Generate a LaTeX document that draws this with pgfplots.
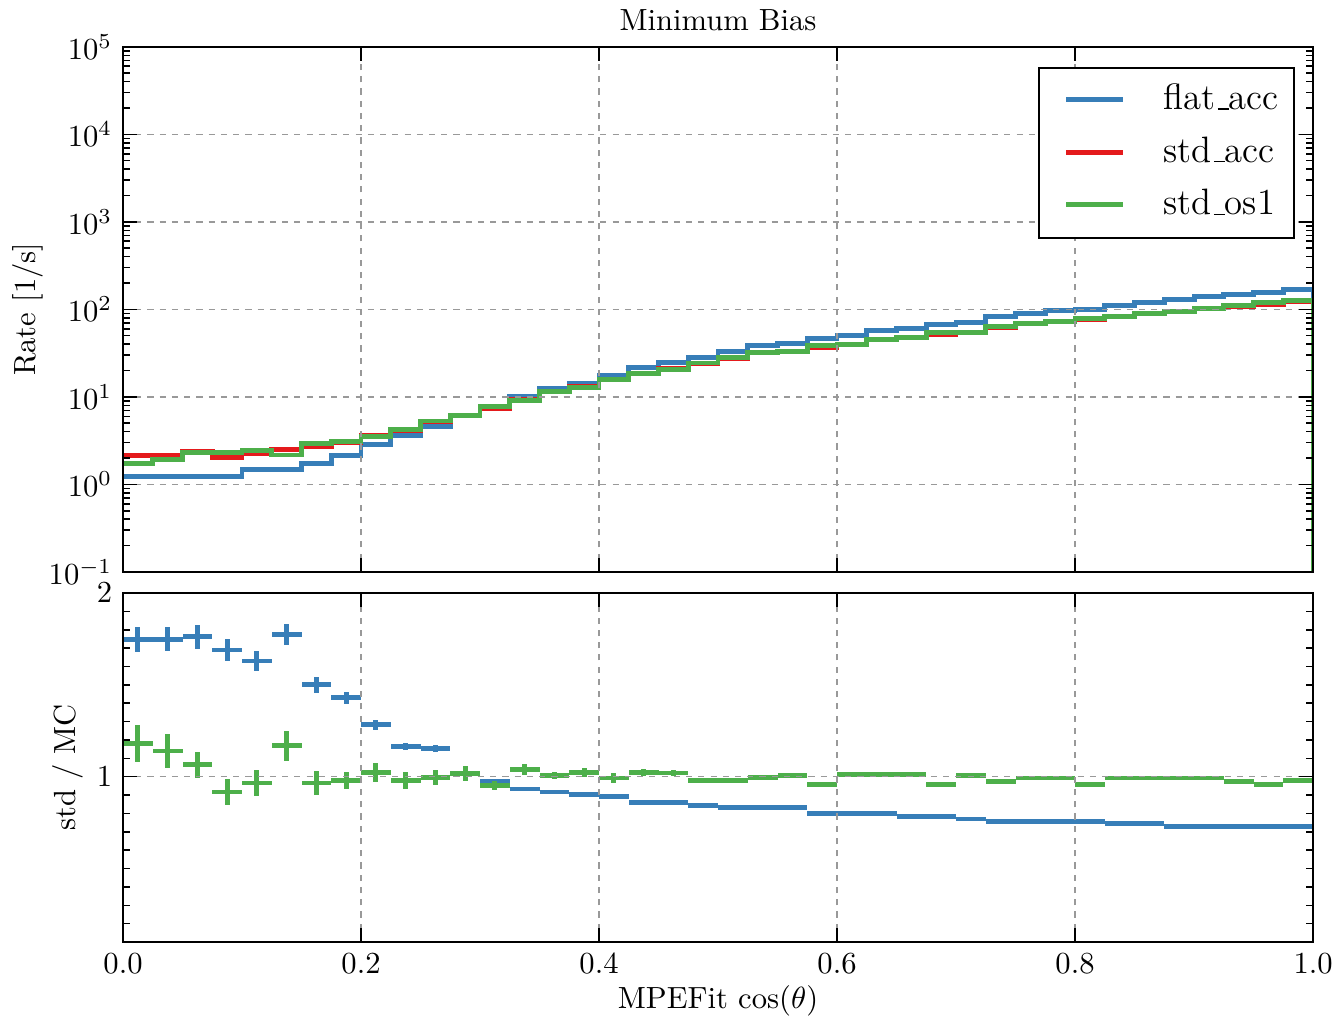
\documentclass[border=0pt]{standalone}
\usepackage{pgfplots}
\pgfplotsset{compat=1.18}
\definecolor{cblue}{RGB}{55,126,184}
\definecolor{cred}{RGB}{228,26,28}
\definecolor{cgreen}{RGB}{77,175,74}
\newcommand{\us}{\leavevmode\kern.06em\vbox{\hrule width.3em}}
\pgfplotsset{
  common/.style={
    scale only axis, width=388.9pt, xmin=0, xmax=1, axis on top,
    tick align=inside, major tick length=4.6pt, minor tick length=2.3pt,
    grid=major, major grid style={dash pattern=on 2pt off 2pt, black!40, line width=0.5pt},
    axis line style={line width=0.8pt},
    every tick/.style={black, line width=0.5pt},
    tick label style={font=\normalsize},
    xticklabel style={inner xsep=0pt},
    xtick={0,0.2,0.4,0.6,0.8,1},
    clip=true,
  },
  stepline/.style={const plot, line width=1.6pt, mark=none},
  ratio/.style={line width=1.6pt, only marks, mark=*, mark size=0pt,
    mark options={draw=none, fill=none},
    error bars/x dir=both, error bars/x fixed=0.0125, error bars/y dir=both,
    error bars/y explicit, error bars/error mark=none,
    error bars/error bar style={line width=1.6pt, solid}},
}
\begin{document}
\begin{tikzpicture}
\begin{axis}[common, name=top, at={(0,0)}, anchor=south west, height=171.6pt,
  ymode=log, ymin=0.1, ymax=1e5,
  ytick={1e-1,1e0,1e1,1e2,1e3,1e4,1e5},
  minor ytick={0.2,0.3,0.4,0.5,0.6,0.7,0.8,0.9,2,3,4,5,6,7,8,9,20,30,40,50,60,70,80,90,200,300,400,500,600,700,800,900,2000,3000,4000,5000,6000,7000,8000,9000,20000,30000,40000,50000,60000,70000,80000,90000},
  xticklabels={},
  title={Minimum Bias},
  title style={at={(axis description cs:0.5,1)}, anchor=center, yshift=2.7pt, inner ysep=1pt, font=\normalsize},
  ylabel={Rate [1/s]},
  ylabel style={at={(axis description cs:-0.0797,0.5)}, anchor=center, font=\normalsize},
  legend style={at={(axis description cs:0.9848,0.9615)}, anchor=north east, draw=black, line width=0.8pt,
    font=\large, inner xsep=4.9pt, inner ysep=4.5pt, row sep=5.2pt,
    /tikz/every odd column/.append style={column sep=12.4pt},
    nodes={inner xsep=0pt, inner ysep=1pt, text height=8pt, text depth=2pt}},
  legend cell align=left,
  legend image code/.code={\path (0pt,0pt); \draw[#1, line width=1.6pt] (3.2pt,0.3pt) -- (21.8pt,0.3pt);},
]
\addplot[stepline, cblue] table[x=x, y=y] {
x y
0 1.23
0.025 1.23
0.05 1.23
0.075 1.23
0.1 1.47
0.125 1.47
0.15 1.75
0.175 2.12
0.2 2.83
0.225 3.58
0.25 4.58
0.275 6.07
0.3 7.5
0.325 10.1
0.35 12.6
0.375 14.4
0.4 17.5
0.425 21.8
0.45 24.6
0.475 28.4
0.5 33
0.525 38.3
0.55 40.3
0.575 46
0.6 49.8
0.625 56.8
0.65 61
0.675 66.5
0.7 71.5
0.725 82.7
0.75 90.4
0.775 96.1
0.8 100.5
0.825 110.6
0.85 120.9
0.875 128.5
0.9 140.3
0.925 149
0.95 157
0.975 170
1 170
1 0.001
};
\addlegendentry{flat\us acc}
\addplot[stepline, cred] table[x=x, y=y] {
x y
0 2.12
0.025 2.12
0.05 2.37
0.075 2.05
0.1 2.27
0.125 2.48
0.15 2.70
0.175 3.03
0.2 3.63
0.225 4.17
0.25 5.28
0.275 6.19
0.3 7.4
0.325 9.42
0.35 11.55
0.375 13.02
0.4 15.58
0.425 18.75
0.45 21.16
0.475 23.91
0.5 27.39
0.525 31.79
0.55 33.45
0.575 36.8
0.6 39.84
0.625 45.44
0.65 47.82
0.675 52.14
0.7 55.06
0.725 62.6
0.75 68.43
0.775 72.75
0.8 76.08
0.825 82.18
0.85 89.83
0.875 93.55
0.9 102.1
0.925 108.5
0.95 114.3
0.975 123.8
1 123.8
1 0.001
};
\addlegendentry{std\us acc}
\addplot[stepline, cgreen] table[x=x, y=y] {
x y
0 1.75
0.025 1.91
0.05 2.31
0.075 2.31
0.1 2.42
0.125 2.17
0.15 2.95
0.175 3.09
0.2 3.55
0.225 4.26
0.25 5.30
0.275 6.09
0.3 7.8
0.325 9.08
0.35 11.47
0.375 12.73
0.4 15.69
0.425 18.33
0.45 20.75
0.475 24.40
0.5 27.95
0.525 31.92
0.55 33.22
0.575 38.33
0.6 39.45
0.625 44.99
0.65 47.35
0.675 54.31
0.7 54.68
0.725 64.21
0.75 68.91
0.775 73.26
0.8 79.25
0.825 82.76
0.85 90.46
0.875 94.21
0.9 102.86
0.925 111.25
0.95 119.06
0.975 126.5
1 126.5
1 0.001
};
\addlegendentry{std\us os1}
\end{axis}
\begin{axis}[common, name=bot, at={(0,-6.9pt)}, anchor=north west, height=114.05pt,
  ymin=0.1, ymax=2, ytick={1,2},
  minor ytick={0.2,0.3,0.4,0.5,0.6,0.7,0.8,0.9,1.1,1.2,1.3,1.4,1.5,1.6,1.7,1.8,1.9},
  xticklabels={0.0,0.2,0.4,0.6,0.8,1.0},
  xlabel={MPEFit $\cos(\theta)$},
  xlabel style={at={(axis description cs:0.5,0)}, anchor=base, yshift=-21.6pt, inner ysep=1pt, font=\normalsize},
  ylabel={std / MC},
  ylabel style={at={(axis description cs:-0.0463,0.5)}, anchor=center, font=\normalsize},
]
\addplot[cblue, ratio] table[x=x, y=y, y error=e] {
x y e
0.0125 1.748 0.069
0.0375 1.748 0.066
0.0625 1.762 0.066
0.0875 1.69 0.059
0.1125 1.63 0.056
0.1375 1.776 0.057
0.1625 1.50 0.043
0.1875 1.43 0.032
0.2125 1.283 0.027
0.2375 1.165 0.02
0.2625 1.152 0.02
0.2875 1.02 0.015
0.3125 0.975 0.012
0.3375 0.933 0.01
0.3625 0.917 0.01
0.3875 0.904 0.008
0.4125 0.89 0.006
0.4375 0.86 0.006
0.4625 0.86 0.005
0.4875 0.842 0.005
0.5125 0.83 0.005
0.5375 0.83 0.005
0.5625 0.83 0.005
0.5875 0.80 0.005
0.6125 0.80 0.005
0.6375 0.80 0.005
0.6625 0.784 0.005
0.6875 0.784 0.005
0.7125 0.77 0.005
0.7375 0.757 0.005
0.7625 0.757 0.005
0.7875 0.757 0.005
0.8125 0.757 0.005
0.8375 0.743 0.005
0.8625 0.743 0.005
0.8875 0.728 0.005
0.9125 0.728 0.005
0.9375 0.728 0.005
0.9625 0.728 0.005
0.9875 0.728 0.005
};
\addplot[cgreen, ratio] table[x=x, y=y, y error=e] {
x y e
0.0125 1.18 0.1
0.0375 1.14 0.092
0.0625 1.065 0.07
0.0875 0.917 0.07
0.1125 0.966 0.07
0.1375 1.168 0.082
0.1625 0.966 0.063
0.1875 0.978 0.047
0.2125 1.023 0.054
0.2375 0.978 0.045
0.2625 0.996 0.043
0.2875 1.016 0.04
0.3125 0.951 0.025
0.3375 1.038 0.03
0.3625 1.007 0.02
0.3875 1.023 0.022
0.4125 0.993 0.025
0.4375 1.023 0.02
0.4625 1.02 0.018
0.4875 0.98 0.015
0.5125 0.98 0.012
0.5375 0.996 0.015
0.5625 1.007 0.015
0.5875 0.96 0.012
0.6125 1.01 0.012
0.6375 1.01 0.01
0.6625 1.01 0.01
0.6875 0.96 0.01
0.7125 1.007 0.01
0.7375 0.975 0.01
0.7625 0.993 0.008
0.7875 0.993 0.008
0.8125 0.96 0.008
0.8375 0.993 0.008
0.8625 0.993 0.008
0.8875 0.993 0.008
0.9125 0.993 0.008
0.9375 0.975 0.008
0.9625 0.96 0.008
0.9875 0.978 0.008
};
\end{axis}
\path (-40.2pt,-147.4pt) rectangle (396.4pt,186.9pt);
\end{tikzpicture}
\end{document}
